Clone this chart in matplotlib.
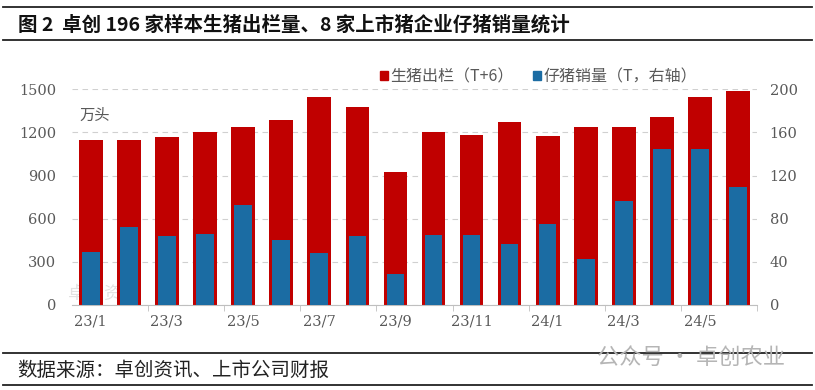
import numpy as np
import matplotlib
matplotlib.use('Agg')
import matplotlib.pyplot as plt
from matplotlib.lines import Line2D
from matplotlib.patches import Patch

plt.rcParams['font.family'] = ['Noto Sans CJK SC', 'DejaVu Sans']
plt.rcParams['axes.unicode_minus'] = False

# 数据
months = ['23/1', '23/2', '23/3', '23/4', '23/5', '23/6', '23/7', '23/8', '23/9',
          '23/10', '23/11', '23/12', '24/1', '24/2', '24/3', '24/4', '24/5', '24/6']
hog_out = [1150, 1150, 1165, 1200, 1240, 1290, 1445, 1375, 925,
           1200, 1185, 1270, 1175, 1240, 1240, 1310, 1445, 1490]   # 生猪出栏 (T+6), 万头
piglet = [49, 72, 64, 66, 93, 60, 48, 64, 29,
          65, 65, 57, 75, 43, 96, 145, 145, 109]                   # 仔猪销量 (T), 右轴

red = '#C00000'
blue = '#1B6CA3'
gray = '#595959'

fig = plt.figure(figsize=(8.15, 3.9), dpi=100)
ax1 = fig.add_axes([0.088, 0.218, 0.841, 0.553])
ax2 = ax1.twinx()

x = np.arange(len(months))
ax1.bar(x, hog_out, width=0.62, color=red, zorder=2)
ax2.bar(x, piglet, width=0.46, color=blue, zorder=3)

ax1.set_xlim(-0.5, len(months) - 0.5)
ax1.set_ylim(0, 1500)
ax2.set_ylim(0, 200)
ax1.set_yticks(range(0, 1501, 300))
ax2.set_yticks(range(0, 201, 40))
ax1.set_xticks(x[::2])
ax1.set_xticklabels(months[::2])
ax1.set_xticks(np.arange(-0.5, len(months), 2)[1:], minor=True)

ax1.yaxis.grid(True, linestyle=(0, (5, 4)), color='#d0d0d0', linewidth=0.8)
ax1.set_axisbelow(True)

for a in (ax1, ax2):
    for s in a.spines.values():
        s.set_visible(False)
    a.tick_params(axis='both', which='major', length=0, labelsize=10.5,
                  labelcolor=gray, pad=6)
    for lab in a.get_xticklabels() + a.get_yticklabels():
        lab.set_family('DejaVu Serif')
ax1.spines['bottom'].set_visible(True)
ax1.spines['bottom'].set_color('#bfbfbf')
ax1.tick_params(axis='x', which='minor', length=4, color='#bfbfbf', direction='out')
ax1.tick_params(axis='x', which='major', pad=7)
ax1.tick_params(axis='y', pad=11)
ax2.tick_params(axis='y', pad=9)

ax1.text(0.012, 0.92, '万头', transform=ax1.transAxes, fontsize=11, color=gray, va='top')
ax1.text(-0.005, 0.03, '卓创资讯', transform=ax1.transAxes, fontsize=13, color='#e2e2e2',
         zorder=1, ha='left')

handles = [Patch(color=red), Patch(color=blue)]
fig.legend(handles, ['生猪出栏（T+6）', '仔猪销量（T，右轴）'], loc='center',
           bbox_to_anchor=(0.661, 0.803), ncol=2, frameon=False, fontsize=11.5,
           handlelength=0.5, handleheight=0.5, handletextpad=0.15, columnspacing=1.2,
           labelcolor=gray)

# 标题与来源
for yy in (0.981, 0.897, 0.095, 0.013):
    fig.add_artist(Line2D([0.004, 0.996], [yy, yy], color='#222222', linewidth=1.3,
                          transform=fig.transFigure))
fig.text(0.022, 0.937, '图 2  卓创 196 家样本生猪出栏量、8 家上市猪企业仔猪销量统计',
         fontsize=14, fontweight='bold', va='center', color='#111111')
fig.text(0.021, 0.05, '数据来源：卓创资讯、上市公司财报', fontsize=14, va='center', color='#222222')
fig.text(0.732, 0.083, '公众号 · 卓创农业', fontsize=16, va='center', color='#b5b5b5')

fig.savefig('out.png', dpi=100)
